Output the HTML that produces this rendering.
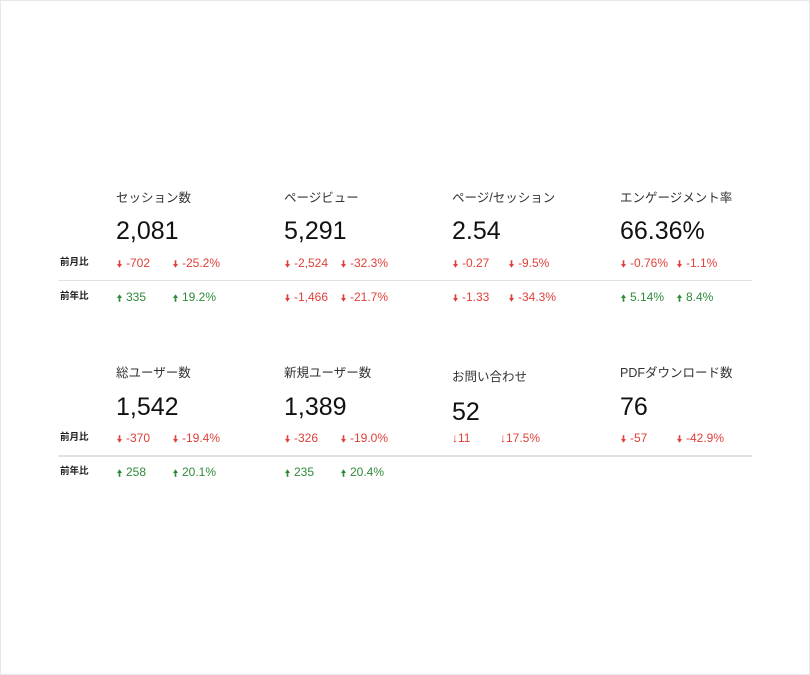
<!DOCTYPE html>
<html><head><meta charset="utf-8"><style>
body{margin:0;width:810px;height:675px;background:#fff;position:relative;overflow:hidden;font-family:"Liberation Sans","Noto Sans CJK JP",sans-serif;}
.frame{position:absolute;left:0;top:0;width:808px;height:673px;border:1px solid #e8e8e8;}
.t{position:absolute;font-size:12.5px;color:#333;line-height:1;}
.v{position:absolute;font-size:25px;color:#111;line-height:1;}
.d{position:absolute;font-size:12px;line-height:1;white-space:nowrap;}
.r{color:#e0403a}.g{color:#2e8b3a}
.l{position:absolute;font-size:9.5px;color:#222;font-weight:bold;line-height:1;}
.sep{position:absolute;left:58px;width:694px;height:1px;background:#e2e2e2;}
.a{display:inline-block;width:5px;height:8px;margin-left:1px;margin-right:4px;vertical-align:-1px;}
</style></head><body><div class="frame"></div>
<div id="c"></div>
<script>
var arrD='<svg class="a" viewBox="0 0 6 9"><rect x="2" y="0" width="2" height="5" fill="currentColor"/><polygon points="0,4.5 6,4.5 3,9" fill="currentColor"/></svg>';
var arrU='<svg class="a" viewBox="0 0 6 9"><rect x="2" y="4" width="2" height="5" fill="currentColor"/><polygon points="0,4.5 6,4.5 3,0" fill="currentColor"/></svg>';
var h='';
function d(x,y,txt,up,plain){var cls=up?'g':'r';h+='<div class="d '+cls+'" style="left:'+x+'px;top:'+y+'px">'+(plain?'':(up?arrU:arrD))+txt+'</div>';}
var cols=[116,284,452,620];
var b1=[["セッション数","2,081",[["-702","-25.2%",0]],[["335","19.2%",1]]],
["ページビュー","5,291",[["-2,524","-32.3%",0]],[["-1,466","-21.7%",0]]],
["ページ/セッション","2.54",[["-0.27","-9.5%",0]],[["-1.33","-34.3%",0]]],
["エンゲージメント率","66.36%",[["-0.76%","-1.1%",0]],[["5.14%","8.4%",1]]]];
var b2=[["総ユーザー数","1,542",[["-370","-19.4%",0]],[["258","20.1%",1]]],
["新規ユーザー数","1,389",[["-326","-19.0%",0]],[["235","20.4%",1]]],
["お問い合わせ","52",null,null],
["PDFダウンロード数","76",[["-57","-42.9%",0]],null]];
function block(b,ty,vy,r1,r2){b.forEach(function(c,i){var x=cols[i];
h+='<div class="t" style="left:'+x+'px;top:'+ty+'px">'+c[0]+'</div>';
h+='<div class="v" style="left:'+x+'px;top:'+vy+'px">'+c[1]+'</div>';
if(c[2]){d(x,r1,c[2][0][0],c[2][0][2]);d(x+56,r1,c[2][0][1],c[2][0][2]);}
if(c[3]){d(x,r2,c[3][0][0],c[3][0][2]);d(x+56,r2,c[3][0][1],c[3][0][2]);}
});}
block(b1,192,219,257,291);
block(b2,367,395,432,466);
h=h.replace('top:367px">お問い合わせ','top:371px">お問い合わせ').replace('top:395px">52','top:400px">52');
h+='<div class="d r" style="left:452px;top:432px">↓11</div><div class="d r" style="left:500px;top:432px">↓17.5%</div>';
h+='<div class="l" style="left:60px;top:258px">前月比</div><div class="l" style="left:60px;top:292px">前年比</div>';
h+='<div class="l" style="left:60px;top:433px">前月比</div><div class="l" style="left:60px;top:467px">前年比</div>';
h+='<div class="sep" style="top:280px"></div><div class="sep" style="top:455px;height:2px"></div>';
document.getElementById('c').innerHTML=h;
</script>
</body></html>
